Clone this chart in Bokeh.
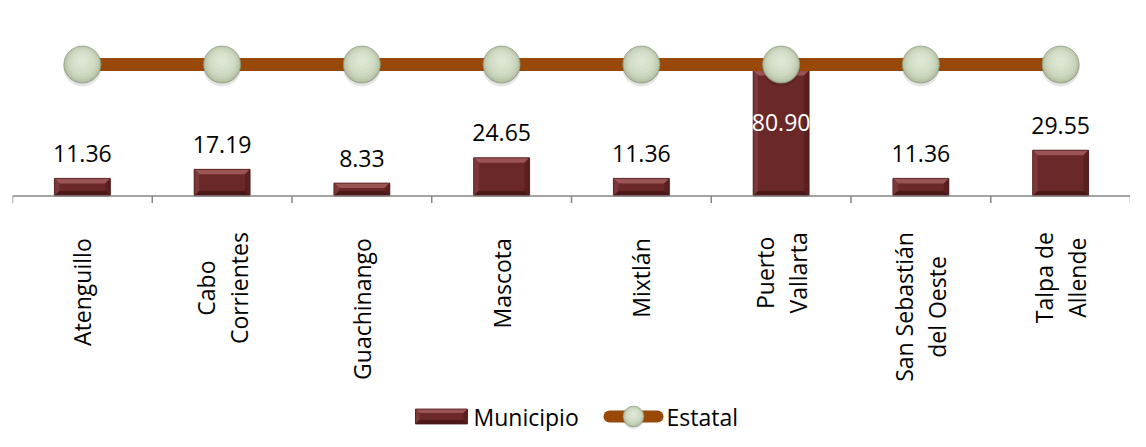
import math
from bokeh.plotting import figure
from bokeh.models import Range1d
from bokeh.core.properties import value
from bokeh.embed import file_html
from bokeh.resources import INLINE

# ---- data ----
municipios = ["Atenguillo", "Cabo\nCorrientes", "Guachinango", "Mascota", "Mixtlán",
              "Puerto\nVallarta", "San Sebastián\ndel Oeste", "Talpa de\nAllende"]
municipio = [11.36, 17.19, 8.33, 24.65, 11.36, 80.90, 11.36, 29.55]
estatal = [84.8, 84.8, 84.8, 84.8, 84.8, 84.8, 84.8, 84.8]
value_labels = ["11.36", "17.19", "8.33", "24.65", "11.36", "80.90", "11.36", "29.55"]
legend_labels = ["Municipio", "Estatal"]

# ---- layout ----
W, H = 1130, 431
LEFT, RIGHT = 12, 0
FRAME_W = W - LEFT - RIGHT
BASE = 195.5      # canvas px (from top) of the zero line
PPU = 1.55        # px per unit
n = len(municipios)
FS = 23           # font size px
LINE_GAP = 33     # px between lines of a wrapped category label


def dx(cx):  # canvas px -> data x
    return (cx - LEFT) / FRAME_W * n


def dy(cy):  # canvas px -> data y
    return (BASE - cy) / PPU


PX_X = n / FRAME_W
PX_Y = 1 / PPU

FONT = value("Open Sans")
BAR_FACE = "#6B2828"
LINE_COLOR = "#984807"

# approximate Open Sans advance widths (em) used to centre rotated label blocks
ADV = {"a": .556, "b": .613, "c": .480, "d": .613, "e": .561, "g": .546, "h": .613,
       "i": .258, "l": .258, "n": .613, "o": .602, "p": .613, "r": .408, "s": .477,
       "t": .361, "u": .613, "x": .523, "á": .556, " ": .260, "A": .633, "C": .629,
       "G": .726, "M": .907, "O": .779, "P": .602, "S": .549, "T": .553, "V": .605}


def text_px(s):
    return sum(ADV.get(ch, .55) for ch in s) * FS


p = figure(width=W, height=H, x_range=Range1d(0, n),
           y_range=Range1d(-(H - BASE) / PPU, BASE / PPU),
           x_axis_location=None, y_axis_location=None,
           toolbar_location=None, output_backend="svg",
           min_border_left=LEFT, min_border_right=RIGHT,
           min_border_top=0, min_border_bottom=0,
           outline_line_color=None)
p.xgrid.visible = False
p.ygrid.visible = False

centers = [i + 0.5 for i in range(n)]


def bevel_bar(xc, bottom, top, half_w, bev_px=5):
    bx = bev_px * PX_X
    by = min(bev_px * PX_Y, (top - bottom) / 2.5)
    l, r = xc - half_w, xc + half_w
    p.quad(left=[l], right=[r], bottom=[bottom], top=[top],
           fill_color=BAR_FACE, line_color=None)
    p.patches(
        xs=[[l, r, r - bx, l + bx], [l, l + bx, l + bx, l],
            [r, r - bx, r - bx, r], [l, l + bx, r - bx, r]],
        ys=[[top, top, top - by, top - by], [top, top - by, bottom + by, bottom],
            [top, top - by, bottom + by, bottom], [bottom, bottom + by, bottom + by, bottom]],
        fill_color=["#9A5453", "#7C3838", "#5A1F1F", "#4C1717"],
        line_color=None)
    p.quad(left=[l], right=[r], bottom=[bottom], top=[top],
           fill_color=None, line_color="#4A1616", line_width=0.8)


for xc, v in zip(centers, municipio):
    bevel_bar(xc, 0, v, 0.2)

# ---- axis baseline and ticks ----
p.segment(x0=[0], y0=[0], x1=[n], y1=[0], line_color="#868686", line_width=1.5)
bounds = list(range(n + 1))
p.segment(x0=bounds, y0=[0] * len(bounds), x1=bounds, y1=[-7 * PX_Y] * len(bounds),
          line_color="#868686", line_width=1.5)


# ---- Estatal line with spheres ----
SPHERE = [(37, 0.0, "#AEBB9F"), (35, 0.6, "#BAC7AB"), (32, 1.2, "#C5D1B7"),
          (28, 1.8, "#CDD8C0"), (23, 2.4, "#D3DDC7"), (17, 3.0, "#D8E1CD"), (10, 3.4, "#DDE5D3")]


def sphere(xs, ys, scale=1.0):
    p.scatter(xs, [y - 3 * PX_Y * scale for y in ys], size=38 * scale,
              fill_color="#000000", fill_alpha=0.10, line_color=None)
    for k, (sz, up, col) in enumerate(SPHERE):
        p.scatter(xs, [y + up * PX_Y * scale for y in ys], size=sz * scale, fill_color=col,
                  line_color="#8E9A84" if k == 0 else None, line_width=0.8)


p.line(centers, estatal, line_width=13, line_color=LINE_COLOR)
sphere(centers, estatal)

# ---- value labels ----
inside = [v > e * 0.9 for v, e in zip(municipio, estatal)]
offsets = [52 if ins else -25 for ins in inside]
colors = ["#FFFFFF" if ins else "#000000" for ins in inside]
p.text(x=centers, y=municipio, text=value_labels, text_align="center",
       text_baseline="alphabetic", y_offset=offsets, text_color=colors,
       text_font=FONT, text_font_size=f"{FS}px")

# ---- category labels (rotated, each line centred in its block) ----
lx, ltxt, lxoff, lyoff = [], [], [], []
for xc, lab in zip(centers, municipios):
    lines = lab.split("\n")
    m = len(lines)
    top_gap = 42 if m == 1 else 36
    block_mid = top_gap + max(text_px(s) for s in lines) / 2
    for k, s in enumerate(lines):
        lx.append(xc)
        ltxt.append(s)
        lxoff.append((k - (m - 1) / 2) * LINE_GAP)
        lyoff.append(block_mid)
p.text(x=lx, y=[0] * len(lx), text=ltxt, angle=math.pi / 2,
       anchor=value("center"), text_align="center", text_baseline="middle",
       x_offset=lxoff, y_offset=lyoff, text_font=FONT, text_font_size=f"{FS}px",
       text_color="#000000")

# ---- legend (manual) ----
leg_y = 416
bevel_bar(dx(441), dy(423.5), dy(408.5), 26 * PX_X, bev_px=4)
p.text(x=[dx(473)], y=[dy(leg_y)], text=[legend_labels[0]], text_align="left",
       text_baseline="middle", text_font=FONT, text_font_size=f"{FS}px", text_color="#000000")
p.line([dx(609), dx(657)], [dy(leg_y), dy(leg_y)], line_width=12,
       line_color=LINE_COLOR, line_cap="round")
sphere([dx(633)], [dy(leg_y)], scale=0.56)
p.text(x=[dx(666)], y=[dy(leg_y)], text=[legend_labels[1]], text_align="left",
       text_baseline="middle", text_font=FONT, text_font_size=f"{FS}px", text_color="#000000")

open("out.html", "w").write(file_html(p, INLINE))
